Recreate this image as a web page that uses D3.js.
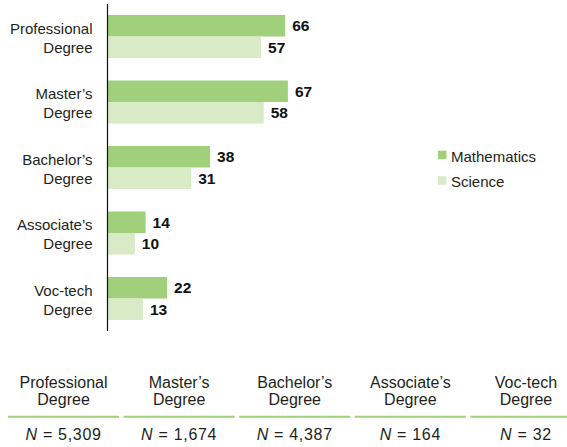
<!DOCTYPE html>
<html>
<head>
<meta charset="utf-8">
<script src="https://cdn.jsdelivr.net/npm/d3@7"></script>
<style>
  body { margin: 0; background: #fff; }
  svg { display: block; font-family: "Liberation Sans", Arial, sans-serif; }
</style>
</head>
<body>
<div id="chart"></div>
<script>
// data
const categories = ["Professional Degree", "Master's Degree", "Bachelor's Degree", "Associate's Degree", "Voc-tech Degree"];
const labelLines = [["Professional", "Degree"], ["Master\u2019s", "Degree"], ["Bachelor\u2019s", "Degree"], ["Associate\u2019s", "Degree"], ["Voc-tech", "Degree"]];
const seriesNames = ["Mathematics", "Science"];
const mathValues = [66, 67, 38, 14, 22];
const scienceValues = [57, 58, 31, 10, 13];
const sampleSizes = ["5,309", "1,674", "4,387", "164", "32"];

const W = 567, H = 447;
const colors = { Mathematics: "#a0d07a", Science: "#d8eac6" };
const textColor = "#231f20";

const svg = d3.select("#chart").append("svg")
    .attr("width", W)
    .attr("height", H);

// scales
const x = d3.scaleLinear().domain([0, 100]).range([108, 376.5]);
const y = d3.scaleBand().domain(categories).range([15, 320]).paddingInner(0.3435).paddingOuter(0);
const ySub = d3.scaleBand().domain(seriesNames).range([0, y.bandwidth()]);

const rows = categories.map((c, i) => ({
    cat: c,
    lines: labelLines[i],
    values: [
        { series: "Mathematics", value: mathValues[i] },
        { series: "Science", value: scienceValues[i] }
    ]
}));

// bars
const group = svg.selectAll(".group")
    .data(rows)
    .enter().append("g")
    .attr("class", "group")
    .attr("transform", d => `translate(0,${y(d.cat)})`);

group.selectAll("rect")
    .data(d => d.values)
    .enter().append("rect")
    .attr("x", x(0))
    .attr("y", d => ySub(d.series))
    .attr("width", d => x(d.value) - x(0))
    .attr("height", ySub.bandwidth())
    .attr("fill", d => colors[d.series]);

// value labels
group.selectAll(".val")
    .data(d => d.values)
    .enter().append("text")
    .attr("class", "val")
    .attr("x", d => x(d.value) + 7)
    .attr("y", d => ySub(d.series) + ySub.bandwidth() / 2 + 5.7)
    .attr("font-size", "15.5px")
    .attr("font-weight", "bold")
    .attr("fill", "#111")
    .text(d => d.value);

// category labels
group.append("text")
    .attr("text-anchor", "end")
    .attr("font-size", "15px")
    .attr("fill", textColor)
    .selectAll("tspan")
    .data(d => d.lines)
    .enter().append("tspan")
    .attr("x", 92.5)
    .attr("y", (d, i) => y.bandwidth() / 2 - 2.5 + i * 19)
    .text(d => d);

// axis line
svg.append("line")
    .attr("x1", 107.5).attr("x2", 107.5)
    .attr("y1", 4).attr("y2", 331)
    .attr("stroke", "#111")
    .attr("stroke-width", 1.2);

// legend
const legend = svg.selectAll(".legend")
    .data(seriesNames)
    .enter().append("g")
    .attr("class", "legend")
    .attr("transform", (d, i) => `translate(438,${150.7 + i * 25.5})`);

legend.append("rect")
    .attr("width", 8.5)
    .attr("height", 8.5)
    .attr("fill", d => colors[d]);

legend.append("text")
    .attr("x", 13)
    .attr("y", 11)
    .attr("font-size", "15px")
    .attr("fill", textColor)
    .text(d => d);

// sample size table
const col = d3.scaleBand().domain(categories).range([8, 8 + 114.7 * 5]).paddingInner(0.039).paddingOuter(0);

const cell = svg.selectAll(".cell")
    .data(rows.map((r, i) => ({ cat: r.cat, lines: r.lines, n: sampleSizes[i] })))
    .enter().append("g")
    .attr("class", "cell")
    .attr("transform", d => `translate(${col(d.cat)},0)`);

cell.append("text")
    .attr("text-anchor", "middle")
    .attr("font-size", "16px")
    .attr("fill", textColor)
    .selectAll("tspan")
    .data(d => d.lines)
    .enter().append("tspan")
    .attr("x", col.bandwidth() / 2)
    .attr("y", (d, i) => 388 + i * 16.5)
    .text(d => d);

cell.append("line")
    .attr("x1", 0).attr("x2", col.bandwidth())
    .attr("y1", 416.7).attr("y2", 416.7)
    .attr("stroke", colors.Mathematics)
    .attr("stroke-width", 2);

const nText = cell.append("text")
    .attr("x", col.bandwidth() / 2)
    .attr("y", 439.5)
    .attr("text-anchor", "middle")
    .attr("font-size", "16px")
    .attr("letter-spacing", "0.7px")
    .attr("fill", textColor)
    .attr("xml:space", "preserve");
nText.append("tspan").attr("font-style", "italic").text("N");
nText.append("tspan").text(d => " = " + d.n);
</script>
</body>
</html>
